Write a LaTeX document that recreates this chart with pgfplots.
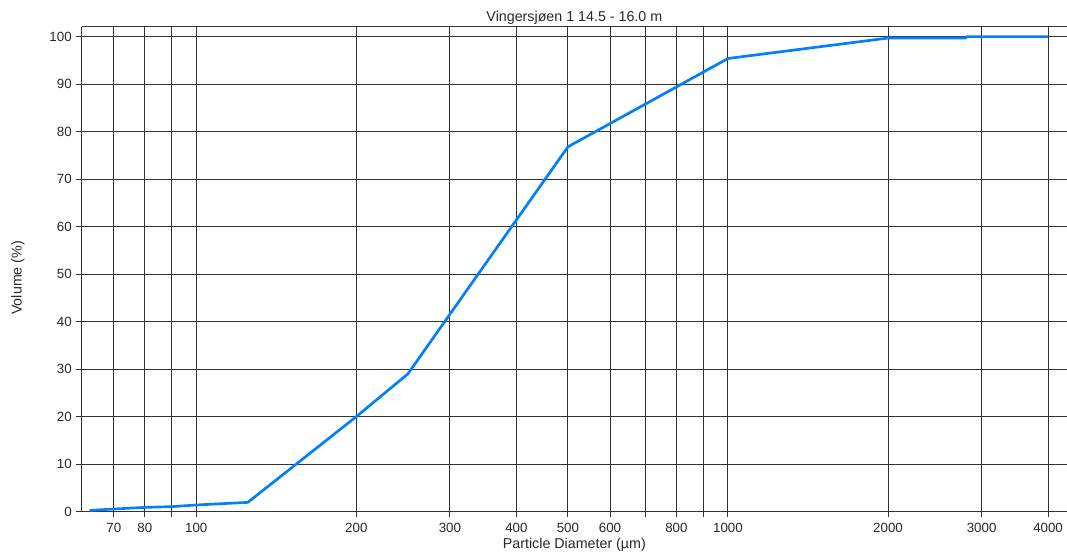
\documentclass[border=0pt]{standalone}
\usepackage{fontspec}
\setmainfont{Liberation Sans}
\usepackage{pgfplots}
\pgfplotsset{compat=1.18}
\definecolor{curve}{RGB}{0,128,255}
\definecolor{gridc}{RGB}{50,50,50}
\definecolor{textc}{RGB}{40,40,40}
\begin{document}
\fontsize{10}{12}\selectfont
\begin{tikzpicture}
\begin{axis}[
  scale only axis, width=739pt, height=363.75pt,
  xmode=log, log basis x=10,
  xmin=60.9, xmax=4342, ymin=0, ymax=102.1,
  axis x line*=box, axis y line*=left,
  axis line style={-, draw=gridc, line width=0.75pt},
  xtick={70,80,90,100,200,300,400,500,600,700,800,900,1000,2000,3000,4000},
  xticklabels={70,80,\phantom{0},100,200,300,400,500,600,\phantom{0},800,\phantom{0},1000,2000,3000,4000},
  minor xtick={},
  ytick={0,10,20,30,40,50,60,70,80,90,100},
  xtick pos=bottom, ytick pos=left,
  tick align=outside, major tick length=4pt,
  tick style={draw=gridc, line width=0.75pt},
  grid=major, major grid style={draw=gridc, line width=0.75pt},
  /pgf/number format/assume math mode=true,
  tick label style={font=\fontsize{10}{12}\selectfont, text=textc},
  xticklabel style={yshift=-1.5pt},
  title={Vingersjøen 1 14.5 - 16.0 m},
  title style={at={(axis description cs:0.5,1)}, anchor=center, yshift=1pt, font=\fontsize{10.7}{12}\selectfont, text=textc},
  xlabel={Particle Diameter (µm)},
  xlabel style={at={(axis description cs:0.5,0)}, anchor=center, yshift=-25pt, font=\fontsize{10.7}{12}\selectfont, text=textc},
  ylabel={Volume (\%)},
  ylabel style={at={(axis description cs:-0.0647,0.482)}, anchor=center, font=\fontsize{10.7}{12}\selectfont, text=textc},
]
\addplot[curve, line width=2pt, no markers, line join=round] coordinates {
  (63,0.25) (70,0.55) (80,0.9) (90,1.05) (100,1.4) (125,1.95)
  (200,20) (250,29) (500,76.8) (1000,95.4) (2000,99.7)
  (2800,99.7) (2810,100) (4000,100)
};
\coordinate (sw) at (rel axis cs:0,0);
\coordinate (ne) at (rel axis cs:1,1);
\end{axis}
\pgfresetboundingbox
\path[use as bounding box] ([xshift=-61.3pt, yshift=-34pt]sw) rectangle ([yshift=20pt]ne);
\end{tikzpicture}
\end{document}
